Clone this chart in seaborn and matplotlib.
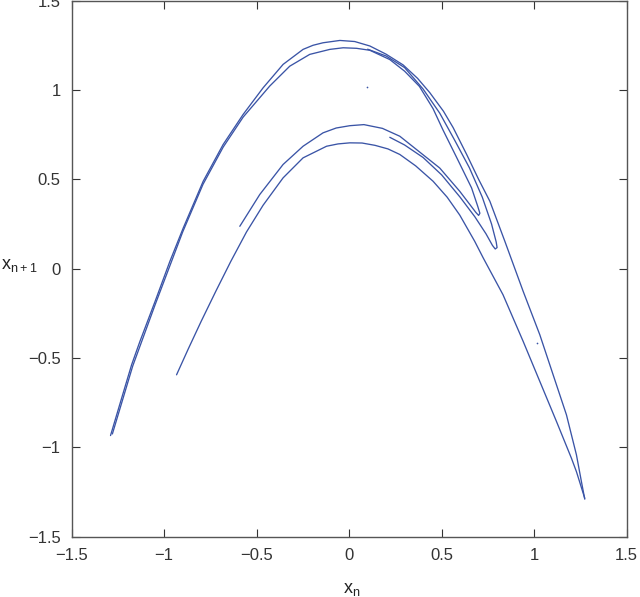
import numpy as np
import pandas as pd
import seaborn as sns
import matplotlib
matplotlib.use("Agg")
import matplotlib.pyplot as plt

# Return map x_n -> x_{n+1}, strands (x_n, x_{n+1})

# outer arc: left end -> top -> bottom right tip
outer_x = [-1.29, -1.23, -1.176, -1.131, -1.049, -0.969, -0.897, -0.789, -0.681,
           -0.573, -0.465, -0.357, -0.249, -0.195, -0.141, -0.05, 0.03, 0.112,
           0.2, 0.292, 0.37, 0.436, 0.51, 0.562, 0.635, 0.70, 0.761, 0.842,
           0.941, 1.031, 1.103, 1.175, 1.229, 1.256, 1.274]
outer_y = [-0.934, -0.725, -0.538, -0.407, -0.183, 0.041, 0.227, 0.489, 0.695,
           0.863, 1.012, 1.143, 1.227, 1.25, 1.264, 1.277, 1.271, 1.246,
           1.20, 1.14, 1.065, 0.985, 0.881, 0.79, 0.64, 0.50, 0.377, 0.153,
           -0.127, -0.37, -0.594, -0.818, -1.042, -1.192, -1.29]

# second strand of the top band, folds at the upper hook into the 0.8 arc
second_x = [-1.28, -1.17, -1.05, -0.90, -0.79, -0.681, -0.573, -0.429, -0.321,
            -0.213, -0.104, -0.032, 0.04, 0.112, 0.22, 0.30, 0.38, 0.454, 0.508,
            0.58, 0.662, 0.695, 0.707, 0.70, 0.685, 0.598, 0.49, 0.274, 0.18,
            0.08, 0.004, -0.07, -0.141, -0.249, -0.357, -0.483, -0.591]
second_y = [-0.925, -0.545, -0.205, 0.205, 0.472, 0.68, 0.848, 1.022, 1.133,
            1.199, 1.227, 1.236, 1.233, 1.222, 1.17, 1.105, 1.02, 0.895, 0.775,
            0.625, 0.452, 0.35, 0.31, 0.298, 0.315, 0.433, 0.563, 0.741, 0.785,
            0.806, 0.80, 0.787, 0.76, 0.685, 0.583, 0.415, 0.237]

# middle strand, folds at the lower hook
middle_x = [0.10, 0.20, 0.30, 0.40, 0.49, 0.57, 0.65, 0.72, 0.77, 0.795, 0.80,
            0.79, 0.775, 0.74, 0.68, 0.60, 0.50, 0.40, 0.30, 0.22]
middle_y = [1.228, 1.19, 1.125, 1.005, 0.87, 0.72, 0.565, 0.40, 0.25, 0.15,
            0.118, 0.11, 0.13, 0.195, 0.29, 0.40, 0.525, 0.622, 0.692, 0.735]

# lower arc (peak ~0.7) down to the tip
inner_x = [-0.933, -0.87, -0.80, -0.72, -0.64, -0.555, -0.465, -0.357,
           -0.249, -0.122, -0.06, 0.004, 0.07, 0.14, 0.21, 0.274, 0.36, 0.454,
           0.53, 0.598, 0.679, 0.725, 0.832, 0.941, 1.031, 1.121, 1.202,
           1.229, 1.274]
inner_y = [-0.594, -0.45, -0.295, -0.125, 0.04, 0.205, 0.355, 0.508,
           0.620, 0.685, 0.698, 0.704, 0.703, 0.69, 0.67, 0.639, 0.575, 0.489,
           0.40, 0.30, 0.153, 0.06, -0.146, -0.407, -0.631, -0.855, -1.061,
           -1.136, -1.285]

# a couple of stray points
stray_x = [0.094, 1.016]
stray_y = [1.017, -0.417]

strands = {"outer": (outer_x, outer_y), "second": (second_x, second_y),
           "middle": (middle_x, middle_y), "inner": (inner_x, inner_y)}
df = pd.concat([pd.DataFrame({"xn": sx, "xn1": sy, "strand": name})
                for name, (sx, sy) in strands.items()], ignore_index=True)

sns.set_style("ticks")
plt.rcParams["font.family"] = ["Liberation Sans", "DejaVu Sans"]
plt.rcParams["mathtext.fontset"] = "custom"
plt.rcParams["mathtext.rm"] = "Liberation Sans"

fig = plt.figure(figsize=(6.4, 5.97), dpi=100)
ax = fig.add_axes([0.112, 0.101, 0.867, 0.898])

col = "#3a54a6"
sns.lineplot(data=df, x="xn", y="xn1", units="strand", estimator=None,
             sort=False, color=col, linewidth=0.95, ax=ax)
ax.scatter(stray_x, stray_y, s=1.5, color=col, linewidths=0)

ax.set_xlim(-1.5, 1.5)
ax.set_ylim(-1.5, 1.5)
ticks = [-1.5, -1, -0.5, 0, 0.5, 1, 1.5]
labels = ["\u22121.5", "\u22121", "\u22120.5", "0", "0.5", "1", "1.5"]
ax.set_xticks(ticks)
ax.set_xticklabels(labels)
ax.set_yticks(ticks)
ax.set_yticklabels(labels)
ax.tick_params(direction="in", length=6, width=0.8, top=True, right=True,
               labelsize=12, colors="#333333", pad=8)
for s in ax.spines.values():
    s.set_visible(True)
    s.set_color("#555555")
    s.set_linewidth(1.0)

ax.set_xlabel(r"$\mathregular{x_n}$", fontsize=13, color="#222222")
ax.set_ylabel(r"$\mathregular{x_{n+1}}$", fontsize=13, color="#222222",
              rotation=0, ha="center", va="center")
ax.xaxis.set_label_coords(0.505, -0.083)
ax.yaxis.set_label_coords(-0.094, 0.505)

fig.savefig("out.png", dpi=100)
